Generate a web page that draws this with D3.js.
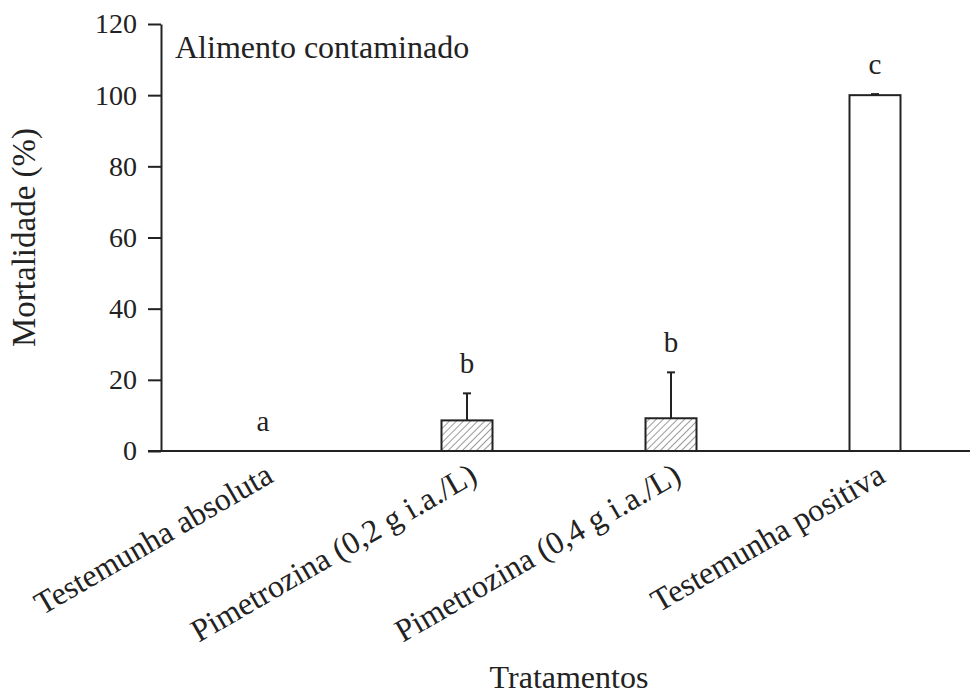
<!DOCTYPE html>
<html>
<head>
<meta charset="utf-8">
<script src="https://cdn.jsdelivr.net/npm/d3@7"></script>
<style>
  body { margin: 0; background: #fff; }
  svg { display: block; }
  text { font-family: "Liberation Serif", "Times New Roman", serif; fill: #222; }
</style>
</head>
<body>
<svg width="970" height="695"></svg>
<script>
// *** data ***
const categories = [
    'Testemunha absoluta',
    'Pimetrozina (0,2 g i.a./L)',
    'Pimetrozina (0,4 g i.a./L)',
    'Testemunha positiva',
];
const means = [0, 8.6, 9.2, 100];
const errors = [0, 7.6, 12.9, 0.3];
const letters = ['a', 'b', 'b', 'c'];
const fills = ['hatch', 'hatch', 'hatch', 'white'];
const yTicks = [0, 20, 40, 60, 80, 100, 120];

const svg = d3.select('svg');
const width = +svg.attr('width');
const ink = '#222';

const x = d3.scaleBand()
    .domain(categories)
    .range([161, 977])
    .paddingInner(0.75)
    .paddingOuter(0.375);
const y = d3.scaleLinear()
    .domain([0, 120])
    .range([451, 24]);

// hatch pattern for the pimetrozina bars
const defs = svg.append('defs');
defs.append('pattern')
    .attr('id', 'hatch')
    .attr('patternUnits', 'userSpaceOnUse')
    .attr('width', 5)
    .attr('height', 5)
    .attr('patternTransform', 'rotate(45)')
    .append('line')
    .attr('x1', 0).attr('y1', 0)
    .attr('x2', 0).attr('y2', 5)
    .attr('stroke', '#555')
    .attr('stroke-width', 1.2);

// *** bars ***
const bars = svg.append('g').attr('class', 'bars');
bars.selectAll('rect')
    .data(categories.filter((c, i) => means[i] > 0))
    .enter()
    .append('rect')
    .attr('x', d => x(d))
    .attr('width', x.bandwidth())
    .attr('y', d => y(means[categories.indexOf(d)]))
    .attr('height', d => y(0) - y(means[categories.indexOf(d)]))
    .attr('fill', d => fills[categories.indexOf(d)] === 'hatch' ? 'url(#hatch)' : '#fff')
    .attr('stroke', ink)
    .attr('stroke-width', 2);

// error bars (upper only)
const err = svg.append('g').attr('class', 'errors');
categories.forEach((c, i) => {
    if (errors[i] <= 0) return;
    const cx = x(c) + x.bandwidth() / 2;
    err.append('line')
        .attr('x1', cx).attr('x2', cx)
        .attr('y1', y(means[i])).attr('y2', y(means[i] + errors[i]))
        .attr('stroke', ink).attr('stroke-width', 2);
    err.append('line')
        .attr('x1', cx - 4).attr('x2', cx + 4)
        .attr('y1', y(means[i] + errors[i])).attr('y2', y(means[i] + errors[i]))
        .attr('stroke', ink).attr('stroke-width', 2);
});

// significance letters
svg.append('g')
    .selectAll('text')
    .data(categories)
    .enter()
    .append('text')
    .attr('x', d => x(d) + x.bandwidth() / 2)
    .attr('y', (d, i) => y(means[i] + errors[i]) - 20)
    .attr('text-anchor', 'middle')
    .attr('font-size', 29)
    .text((d, i) => letters[i]);

// *** axes ***
const yAxis = svg.append('g')
    .attr('transform', 'translate(161,0)')
    .call(d3.axisLeft(y).tickValues(yTicks).tickSize(13).tickSizeOuter(0).tickPadding(11));
yAxis.selectAll('path, line').attr('stroke', ink).attr('stroke-width', 2);
yAxis.selectAll('text').attr('font-size', 28).attr('font-family', null).style('fill', ink);

svg.append('line')
    .attr('x1', 148).attr('x2', width)
    .attr('y1', y(0)).attr('y2', y(0))
    .attr('stroke', ink).attr('stroke-width', 2);

// category labels, rotated
svg.append('g')
    .selectAll('text')
    .data(categories)
    .enter()
    .append('text')
    .attr('transform', d => `translate(${x(d) + x.bandwidth() / 2 + 12},${y(0) + 30}) rotate(-30)`)
    .attr('text-anchor', 'end')
    .attr('font-size', 32)
    .text(d => d);

// titles
svg.append('text')
    .attr('x', 175)
    .attr('y', 58)
    .attr('font-size', 32)
    .text('Alimento contaminado');

svg.append('text')
    .attr('transform', `translate(35,${(y(0) + y(120)) / 2}) rotate(-90)`)
    .attr('text-anchor', 'middle')
    .attr('font-size', 33)
    .text('Mortalidade (%)');

svg.append('text')
    .attr('x', 569)
    .attr('y', 688)
    .attr('text-anchor', 'middle')
    .attr('font-size', 32)
    .text('Tratamentos');
</script>
</body>
</html>
